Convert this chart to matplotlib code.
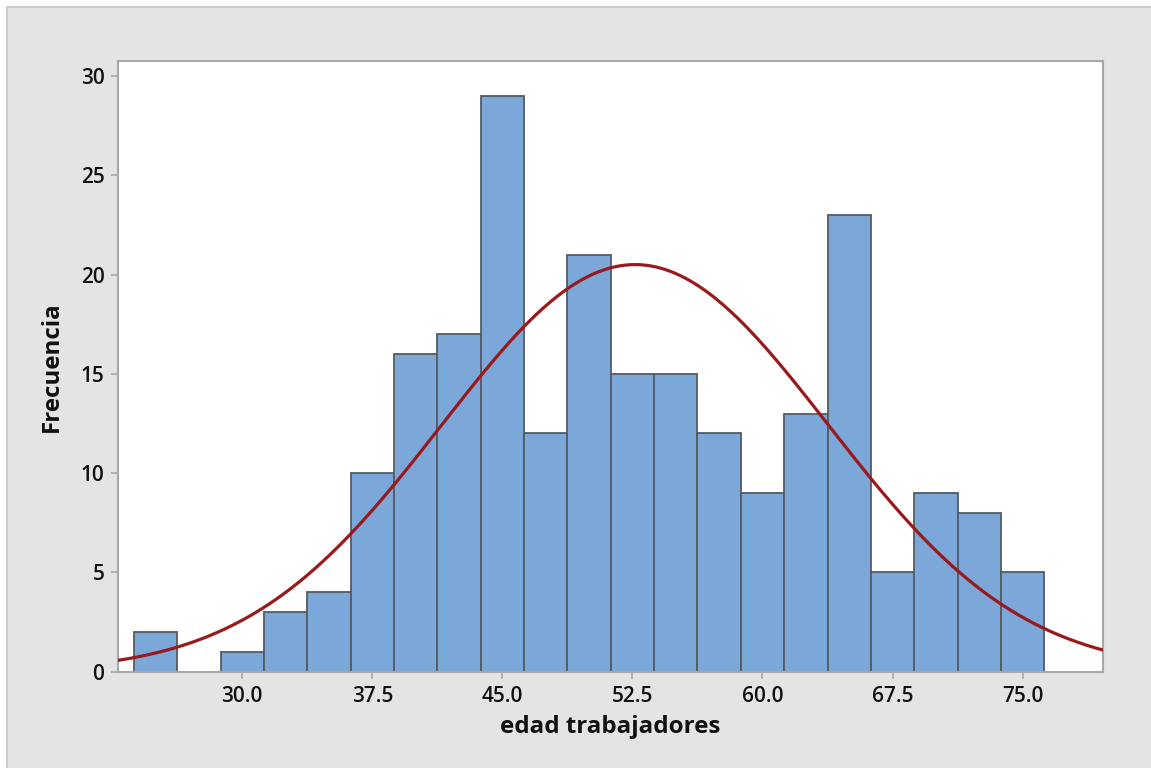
import numpy as np
import matplotlib
matplotlib.use("Agg")
import matplotlib.pyplot as plt
from matplotlib.patches import Rectangle

# Data
bin_centers = [25.0, 27.5, 30.0, 32.5, 35.0, 37.5, 40.0, 42.5, 45.0, 47.5, 50.0,
               52.5, 55.0, 57.5, 60.0, 62.5, 65.0, 67.5, 70.0, 72.5, 75.0]
counts = [2, 0, 1, 3, 4, 10, 16, 17, 29, 12, 21, 15, 15, 12, 9, 13, 23, 5, 9, 8, 5]
bin_width = 2.5
fit_mean = 52.65
fit_sd = 11.14
xticks = [30.0, 37.5, 45.0, 52.5, 60.0, 67.5, 75.0]
yticks = [0, 5, 10, 15, 20, 25, 30]
xlabel = "edad trabajadores"
ylabel = "Frecuencia"

plt.rcParams['font.family'] = ['Open Sans', 'DejaVu Sans']

W, H = 1151, 768
fig = plt.figure(figsize=(W / 100, H / 100), dpi=100, facecolor='white')
bg = Rectangle((6.5 / W, -0.01), 1.02, 1 - 6.5 / H + 0.01,
               transform=fig.transFigure, facecolor='#e4e4e4',
               edgecolor='#cdcdcd', linewidth=1.5, zorder=-10)
fig.patches.append(bg)

ax = fig.add_axes([118.3 / W, 1 - 671.7 / H, (1102.7 - 118.3) / W, (671.7 - 61.3) / H])
ax.set_zorder(5)
ax.set_facecolor('white')

ax.bar(bin_centers, counts, width=bin_width, color='#7ba7d9', edgecolor='#555b63',
       linewidth=1.3, zorder=2)

n = sum(counts)
xs = np.linspace(22.0, 81.0, 600)
ys = n * bin_width / (fit_sd * np.sqrt(2 * np.pi)) * np.exp(-0.5 * ((xs - fit_mean) / fit_sd) ** 2)
ax.plot(xs, ys, color='#981a1c', linewidth=2.3, zorder=3, solid_capstyle='butt')

ax.set_xlim(22.85, 79.62)
ax.set_ylim(0, 30.74)
ax.set_xticks(xticks)
ax.set_xticklabels([f"{t:.1f}" for t in xticks])
ax.set_yticks(yticks)
ax.set_yticklabels([str(t) for t in yticks])

for side in ['left', 'bottom', 'right', 'top']:
    ax.spines[side].set_color('#a8a8a8')
    ax.spines[side].set_linewidth(1.5)

ax.tick_params(axis='both', direction='out', length=5, width=1.2, color='#a8a8a8',
               labelsize=15, labelcolor='#111111', pad=5)
for lab in ax.get_xticklabels() + ax.get_yticklabels():
    lab.set_fontweight('semibold')

ax.set_xlabel(xlabel, fontsize=17.4, fontweight='bold', color='#111111', labelpad=6)
ax.set_ylabel(ylabel, fontsize=17.4, fontweight='bold', color='#111111', labelpad=12)

fig.savefig("out.png", dpi=100, facecolor=fig.get_facecolor())
